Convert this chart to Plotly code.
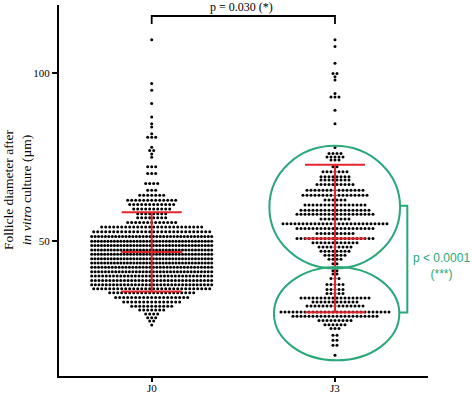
import numpy as np
import plotly.graph_objects as go

# ---------------- data ----------------
groups = ["J0", "J3"]

# J0: row values (µm) and number of follicles in each row of the swarm
j0_rows = [110, 97, 95, 91, 87, 85, 84, 82, 81, 78, 77, 76, 75,
           72.2, 70.2, 67.2, 65.2, 63.7, 62.2, 60.9, 59.6, 58.2, 57.0, 55.6,
           54.2, 52.8, 51.4, 50.0, 48.7, 47.4, 46.1, 44.8, 43.5, 42.2, 40.9,
           39.6, 38.3, 37.0, 35.8, 34.6, 33.2, 31.9, 30.6, 29.5, 28.3, 27.2,
           26.2, 25.0]
j0_counts = [1, 1, 1, 1, 1, 1, 1, 1, 3, 1, 2, 1, 1,
             3, 3, 4, 3, 7, 13, 12, 10, 8, 8, 13,
             26, 30, 36, 38, 38, 38, 38, 38, 38, 36, 36,
             34, 34, 34, 30, 22, 19, 15, 11, 7, 4, 3,
             2, 1]

# J3: row values (µm) and counts
j3_rows = [110, 108, 103, 100, 99, 98, 94, 93, 89, 85,
           77.9, 76.1, 75.1, 74.2, 72.2, 70.7, 69.2, 68.2, 66.9,
           65.2, 63.7, 62.3, 60.8, 59.2, 58.0, 56.6, 55.2, 53.8, 52.3,
           50.8, 49.5, 48.3, 47.0, 45.8, 44.6, 43.3,
           42.2, 41.2, 40.2, 38.9, 37.1, 35.6, 34.4, 33.1, 31.9, 30.7,
           28.9, 27.6, 26.4, 25.1, 24.0, 22.0, 20.5, 19.0, 16.0]
j3_counts = [1, 1, 1, 2, 1, 1, 1, 3, 1, 1,
             1, 4, 5, 3, 2, 7, 8, 8, 10,
             15, 17, 6, 16, 18, 20, 8, 27, 20, 10,
             20, 12, 9, 8, 6, 4, 2,
             1, 2, 2, 3, 5, 5, 5, 18, 12, 15,
             28, 22, 9, 6, 3, 2, 2, 2, 1]

# mean ± SD drawn in red
means = [46.8, 50.8]
sds = [11.8, 22.0]

y_ticks = [50, 100]
p_top = "p = 0.030 (*)"
p_right = "p < 0.0001<br>(***)"
y_title = "Follicle diameter after<br><i>in vitro</i> culture (µm)"

# ---------------- layout constants ----------------
W, H = 472, 394
ML, MR, MT, MB = 59, 44, 5, 18
X_RANGE = [-0.5057, 1.5074]
Y_RANGE = [9.83, 120.38]
PW, PH = W - ML - MR, H - MT - MB
PX_PER_UNIT = PW / (X_RANGE[1] - X_RANGE[0])

SERIF = "Liberation Serif, Times New Roman, serif"
SANS = "Liberation Sans, Arial, sans-serif"
RED = "#e3262b"
GREEN = "#2aa878"


def swarm(center, rows, counts, max_w_px=120.0, step_px=4.0):
    xs, ys = [], []
    for v, n in zip(rows, counts):
        s = step_px if n <= 1 else min(step_px, max_w_px / (n - 1))
        offs = (np.arange(n) - (n - 1) / 2.0) * s / PX_PER_UNIT
        xs.extend(center + offs)
        ys.extend([v] * n)
    return xs, ys


fig = go.Figure()

for i, (rows, counts) in enumerate([(j0_rows, j0_counts), (j3_rows, j3_counts)]):
    xs, ys = swarm(i, rows, counts)
    fig.add_trace(go.Scatter(
        x=xs, y=ys, mode="markers",
        marker=dict(size=3, color="black", line=dict(width=0)),
        hoverinfo="skip"))

# mean line (error_x without caps) + SD bars (error_y with caps)
fig.add_trace(go.Scatter(
    x=[0, 1], y=means, mode="markers",
    marker=dict(size=1, color=RED, opacity=0),
    error_x=dict(type="constant", value=30.5 / PX_PER_UNIT, width=0,
                 thickness=2, color=RED),
    hoverinfo="skip"))
fig.add_trace(go.Scatter(
    x=[0, 1], y=means, mode="markers",
    marker=dict(size=1, color=RED, opacity=0),
    error_y=dict(type="data", array=sds, width=30, thickness=2, color=RED),
    hoverinfo="skip"))

# green ellipses around the two J3 sub-populations
fig.add_shape(type="circle", xref="x", yref="y",
              x0=0.642, x1=1.355, y0=41.86, y1=78.42,
              line=dict(color=GREEN, width=2))
fig.add_shape(type="circle", xref="x", yref="y",
              x0=0.667, x1=1.351, y0=14.51, y1=42.34,
              line=dict(color=GREEN, width=2))
# green bracket
fig.add_shape(type="path", xref="x", yref="y",
              path="M 1.355 60.54 L 1.3946 60.54 L 1.3946 28.73 L 1.351 28.73",
              line=dict(color=GREEN, width=2))
fig.add_annotation(x=(441.3 - ML) / PW, y=42.7, xref="paper", yref="y", text=p_right,
                   showarrow=False, xanchor="center", yanchor="middle",
                   font=dict(family=SANS, size=12, color=GREEN))

# top significance bracket
fig.add_shape(type="path", xref="x", yref="y",
              path="M 0 114.7 L 0 117.1 L 1 117.1 L 1 114.7",
              line=dict(color="black", width=1.8))
fig.add_annotation(x=0.49, y=119.8, xref="x", yref="y", text=p_top,
                   showarrow=False, xanchor="center", yanchor="middle",
                   font=dict(family=SERIF, size=12, color="black"))

# y axis title
fig.add_annotation(x=(17.5 - ML) / PW, y=0.5, xref="paper", yref="paper",
                   text=y_title, textangle=-90, showarrow=False,
                   xanchor="center", yanchor="middle",
                   font=dict(family=SERIF, size=13.5, color="black"))

# x category labels (placed as annotations so they fit the tight bottom margin)
for i, g in enumerate(groups):
    fig.add_annotation(x=i, y=-(380.5 - (MT + PH)) / PH, xref="x", yref="paper",
                       text=g, showarrow=False, xanchor="center", yanchor="top",
                       borderpad=0,
                       font=dict(family=SERIF, size=11, color="black"))

fig.update_layout(
    width=W, height=H,
    margin=dict(l=ML, r=MR, t=MT, b=MB, autoexpand=False),
    plot_bgcolor="white", paper_bgcolor="white",
    showlegend=False,
    xaxis=dict(range=X_RANGE, tickvals=[0, 1], showticklabels=False,
               showline=True, linewidth=2, linecolor="black",
               ticks="outside", ticklen=4, tickwidth=2, tickcolor="black",
               showgrid=False, zeroline=False),
    yaxis=dict(range=Y_RANGE, tickvals=y_ticks,
               showline=True, linewidth=2, linecolor="black",
               ticks="outside", ticklen=5, tickwidth=2, tickcolor="black",
               showgrid=False, zeroline=False,
               tickfont=dict(family=SERIF, size=11, color="black")),
)

fig.write_html(
    "out.html",
    config={"displayModeBar": False, "staticPlot": True},
    post_script="document.body.style.margin='0px';document.body.style.overflow='hidden';",
)
